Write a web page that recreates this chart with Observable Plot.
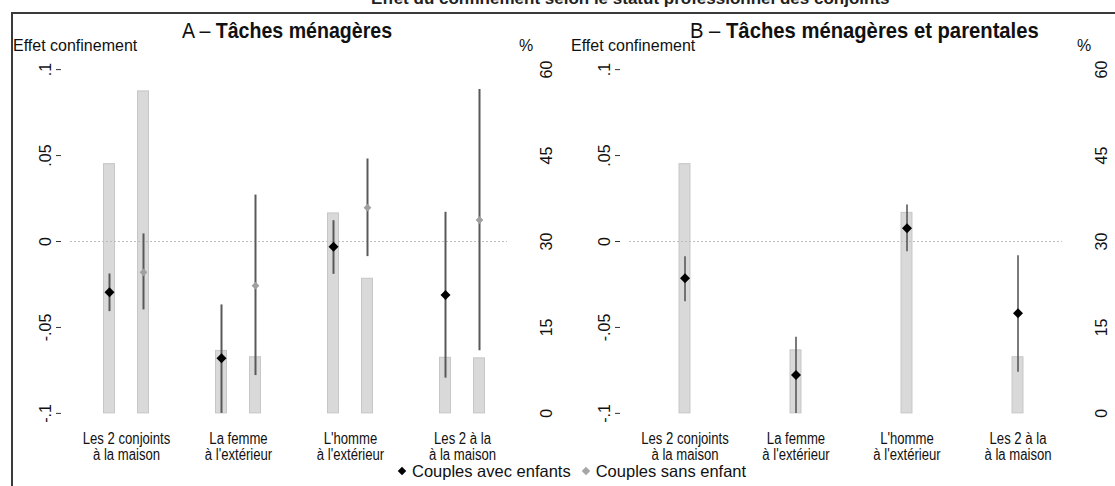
<!DOCTYPE html>
<html>
<head>
<meta charset="utf-8">
<script src="https://cdn.jsdelivr.net/npm/d3@7"></script>
<script src="https://cdn.jsdelivr.net/npm/@observablehq/plot@0.6"></script>
<style>
  html, body { margin: 0; padding: 0; background: #fff; }
  body { width: 1115px; height: 486px; position: relative; overflow: hidden;
         font-family: "Liberation Sans Narrow", "Arial Narrow", "Liberation Sans", sans-serif; color: #111; }
  #frameTop { position: absolute; left: 12px; top: 12px; width: 1110px; height: 2px; background: #3a3a3a; z-index: 10; }
  #frameLeft { position: absolute; left: 11px; top: 12px; width: 2px; height: 480px; background: #3a3a3a; z-index: 10; }
  #suptitle { position: absolute; top: -11px; left: 371px; font-size: 17px; font-weight: bold; white-space: nowrap; color: #222; }
  .ptitle { position: absolute; top: 18px; font-size: 22px; white-space: nowrap; transform-origin: 0 0; }
  .ptitle b { font-weight: bold; }
  .ylab { position: absolute; top: 37px; font-size: 16px; white-space: nowrap; }
  .panel { position: absolute; top: 0; }
  #legend { position: absolute; top: 463px; left: 396px; font-size: 16.5px; line-height: 16px; white-space: nowrap; display: flex; gap: 9px; align-items: center; }
  #legend span { display: inline-flex; align-items: center; }
  #legend i { display: inline-block; width: 6px; height: 6px; transform: rotate(45deg); margin: 0 7px 0 3px; }
</style>
</head>
<body>
<div id="frameTop"></div>
<div id="frameLeft"></div>
<div id="suptitle">Effet du confinement selon le statut professionnel des conjoints</div>
<div class="ptitle" style="left:182px; transform: scaleX(0.89)">A – <b>Tâches ménagères</b></div>
<div class="ptitle" style="left:690px; transform: scaleX(0.92)">B – <b>Tâches ménagères et parentales</b></div>
<div class="ylab" style="left:13px">Effet confinement</div>
<div class="ylab" style="left:519px">%</div>
<div class="ylab" style="left:571px">Effet confinement</div>
<div class="ylab" style="left:1077px">%</div>
<div id="panelA" class="panel" style="left:0px"></div>
<div id="panelB" class="panel" style="left:559px"></div>
<div id="legend">
  <span><i style="background:#000"></i>Couples avec enfants</span>
  <span><i style="background:#a6a6a6"></i>Couples sans enfant</span>
</div>
<script>
// Professional situation of the couple during lockdown
const categories = [
  "Les 2 conjoints\nà la maison",
  "La femme\nà l'extérieur",
  "L'homme\nà l'extérieur",
  "Les 2 à la\nà la maison"
];

// Left axis: lockdown effect; right axis: share of couples (%)
const effectTicks = [-0.1, -0.05, 0, 0.05, 0.1];
const pctTicks = [0, 15, 30, 45, 60];

// Panel A – housework
const pctAvecA = [43.5, 10.9, 34.9, 9.7];
const pctSansA = [56.2, 9.8, 23.5, 9.6];
const effAvecA = [-0.0295, -0.0679, -0.0030, -0.0311];
const loAvecA  = [-0.0408, -0.1000, -0.0191, -0.0795];
const hiAvecA  = [-0.0189, -0.0369,  0.0121,  0.0170];
const effSansA = [-0.0179, -0.0257,  0.0197,  0.0125];
const loSansA  = [-0.0398, -0.0780, -0.0088, -0.0635];
const hiSansA  = [ 0.0044,  0.0270,  0.0480,  0.0885];

// Panel B – housework and parenting (couples with children)
const pctAvecB = [43.5, 11.0, 35.0, 9.8];
const effAvecB = [-0.0214, -0.0776,  0.0077, -0.0417];
const loAvecB  = [-0.0350, -0.1000, -0.0059, -0.0760];
const hiAvecB  = [-0.0088, -0.0557,  0.0212, -0.0083];

const FONT = '"Liberation Sans Narrow", "Arial Narrow", "Liberation Sans", sans-serif';

// The % axis is laid over the effect axis: 0–60 % spans -0.1 to 0.1
const pctToEffect = p => (p - 30) / 300;
const effectToPct = e => Math.round(e * 300 + 30);
const fmtEffect = v => v === 0 ? "0" : (v < 0 ? "-" : "") + String(Math.abs(v)).replace(/^0/, "");

function rows(eff, lo, hi, pct) {
  return categories.map((cat, i) => ({cat, eff: eff[i], lo: lo[i], hi: hi[i], pct: pct[i]}));
}

function panel(series, {width, marginLeft, marginRight}) {
  const height = 466, marginTop = 60, marginBottom = 44;
  const step = (width - marginLeft - marginRight) / 4.16;
  const inset = (step - 11) / 2;
  const marks = [];
  for (const s of series) {
    marks.push(Plot.barY(s.data, {
      x: "cat", y1: () => pctToEffect(0), y2: d => pctToEffect(d.pct), dx: s.dx,
      insetLeft: inset, insetRight: inset, fill: "#d9d9d9", stroke: "#c6c6c6", strokeWidth: 1
    }));
  }
  marks.push(Plot.ruleY([0], {stroke: "#bdbdbd", strokeDasharray: "2,2", insetLeft: 9, insetRight: 20}));
  for (const s of series) {
    marks.push(Plot.ruleX(s.data, {x: "cat", y1: "lo", y2: "hi", dx: s.dx, stroke: "#595959", strokeWidth: s.lw}));
    marks.push(Plot.dot(s.data, {x: "cat", y: "eff", dx: s.dx, symbol: "diamond2", r: s.r, fill: s.color, stroke: "none"}));
  }
  marks.push(
    Plot.axisY({ticks: effectTicks, tickFormat: fmtEffect, tickRotate: -90, tickSize: 5, tickPadding: 6,
                line: true, label: null, stroke: "#333"}),
    Plot.axisY({anchor: "right", ticks: pctTicks.map(pctToEffect), tickFormat: effectToPct, tickRotate: -90,
                tickSize: 0, tickPadding: 24, line: true, label: null, stroke: "#333"}),
    Plot.axisX({tickSize: 0, tickPadding: 10, line: true, label: null, stroke: "#333"})
  );
  const svg = Plot.plot({
    width, height, marginTop, marginBottom, marginLeft, marginRight,
    style: {fontFamily: FONT, fontSize: "16px", color: "#111", background: "transparent", overflow: "visible"},
    x: {type: "band", domain: categories, paddingInner: 0, paddingOuter: 0.08},
    y: {domain: [-0.1053, 0.1053]},
    marks
  });
  // narrow the category labels horizontally around their centre
  const names = new Set(categories.map(c => c.replace("\n", "")));
  svg.querySelectorAll("text").forEach(t => {
    if (!names.has(t.textContent)) return;
    const x = +t.getAttribute("x") || 0;
    const tr = t.getAttribute("transform") || "";
    t.setAttribute("transform", `${tr} translate(${x},0) scale(0.82,1) translate(${-x},0)`.trim());
    t.querySelectorAll("tspan").forEach(s => {
      const sx = s.getAttribute("x");
      if (sx !== null && sx !== "0") s.setAttribute("x", sx);
    });
  });
  return svg;
}

document.getElementById("panelA").append(panel([
  {data: rows(effAvecA, loAvecA, hiAvecA, pctAvecA), dx: -17, color: "#000", r: 4.5, lw: 2},
  {data: rows(effSansA, loSansA, hiSansA, pctSansA), dx: 17, color: "#a0a0a0", r: 3.5, lw: 2}
], {width: 560, marginLeft: 61, marginRight: 33}));

document.getElementById("panelB").append(panel([
  {data: rows(effAvecB, loAvecB, hiAvecB, pctAvecB), dx: 0, color: "#000", r: 4.5, lw: 1.6}
], {width: 556, marginLeft: 61, marginRight: 33}));
</script>
</body>
</html>
